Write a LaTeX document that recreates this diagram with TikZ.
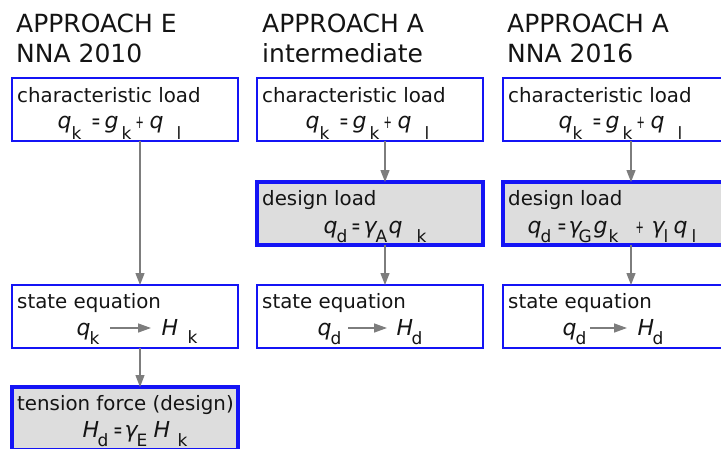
\documentclass[tikz,border=0pt]{standalone}
\usepackage{fontspec}
\setmainfont{DejaVu Sans}
\usepackage{graphicx}
\usetikzlibrary{arrows.meta}
\definecolor{bblue}{RGB}{20,20,245}
\definecolor{gfill}{RGB}{221,221,221}
\definecolor{agrey}{RGB}{125,125,125}
\definecolor{tcol}{RGB}{20,20,20}
% piece at horizontal offset
\newcommand{\pc}[2]{\makebox[0pt][l]{\hspace*{#1}#2}}
% subscript with a given drop
\newcommand{\dsb}[2]{\raisebox{-#1}{\fontsize{17pt}{17pt}\selectfont #2}}
\newcommand{\mv}[1]{{\itshape #1}}
\newcommand{\eqs}{{\fontsize{21pt}{21pt}\selectfont\scalebox{0.5}[1]{=}}}
\newcommand{\pls}{{\fontsize{18pt}{18pt}\selectfont\scalebox{0.55}[1]{+}}}
\begin{document}
\begin{tikzpicture}[x=1pt,y=-1pt,
 box/.style={draw=bblue,line width=1.6pt,minimum width=226pt,minimum height=63pt,anchor=north west,inner sep=0pt,outer sep=0pt},
 dbox/.style={box,line width=3.5pt,fill=gfill},
 head/.style={anchor=base west,inner sep=0pt,font=\fontsize{25pt}{30pt}\selectfont,text=tcol},
 lbl/.style={anchor=base west,inner sep=0pt,font=\fontsize{19.8pt}{20pt}\selectfont,text=tcol},
 fml/.style={anchor=base west,inner sep=0pt,font=\fontsize{22pt}{22pt}\selectfont,text=tcol},
 flow/.style={draw=agrey,line width=1.3pt,-{Triangle[length=12pt,width=9pt]}},
 sarr/.style={draw=agrey,line width=1.4pt,-{Triangle[length=13pt,width=9pt]}}]
\useasboundingbox (0,0) rectangle (721,448);
\clip (0,0) rectangle (721,448);

% headers
\node[head] (h1a) at (16,32) {APPROACH E};
\node[head] (h1b) at (16,62) {NNA 2010};
\node[head] (h2a) at (262,32) {APPROACH A};
\node[head] (h2b) at (262,62) {intermediate};
\node[head] (h3a) at (507,32) {APPROACH A};
\node[head] (h3b) at (507,62) {NNA 2016};

% boxes
\node[box] (c1) at (12,78) {};
\node[box] (c2) at (257,78) {};
\node[box] (c3) at (503,78) {};
\node[dbox] (d2) at (257,182) {};
\node[dbox] (d3) at (503,182) {};
\node[box] (s1) at (12,285) {};
\node[box] (s2) at (257,285) {};
\node[box] (s3) at (503,285) {};
\node[dbox] (t1) at (12,387) {};

% labels
\node[lbl] (c1l) at (17,102) {characteristic load};
\node[lbl] (c2l) at (262,102) {characteristic load};
\node[lbl] (c3l) at (508,102) {characteristic load};
\node[lbl] (d2l) at (262,205) {design load};
\node[lbl] (d3l) at (508,205) {design load};
\node[lbl] (s1l) at (17,308) {state equation};
\node[lbl] (s2l) at (262,308) {state equation};
\node[lbl] (s3l) at (508,308) {state equation};
\node[lbl] (t1l) at (17,410) {tension force (design)};

% formulas
\newcommand{\charf}{\pc{0pt}{\mv{q}}\pc{14pt}{\dsb{11pt}{k}}\pc{34pt}{\eqs}\pc{47pt}{\mv{g}}\pc{64pt}{\dsb{11pt}{k}}\pc{78pt}{\pls}\pc{92pt}{\mv{q}}\pc{119pt}{\dsb{11pt}{l}}}
\node[fml] (c1f) at (57,128) {\charf};
\node[fml] (c2f) at (305,128) {\charf};
\node[fml] (c3f) at (558,128) {\charf};
\node[fml] (d2f) at (323,233) {\pc{0pt}{\mv{q}}\pc{13pt}{\dsb{9pt}{d}}\pc{28pt}{\eqs}\pc{40pt}{\mv{γ}}\pc{52pt}{\dsb{9pt}{A}}\pc{65pt}{\mv{q}}\pc{93pt}{\dsb{9pt}{k}}};
\node[fml] (d3f) at (527,233) {\pc{0pt}{\mv{q}}\pc{13pt}{\dsb{9pt}{d}}\pc{30pt}{\eqs}\pc{41pt}{\mv{γ}}\pc{51pt}{\dsb{9pt}{G}}\pc{66pt}{\mv{g}}\pc{81pt}{\dsb{9pt}{k}}\pc{108pt}{\pls}\pc{124pt}{\mv{γ}}\pc{136pt}{\dsb{9pt}{l}}\pc{146pt}{\mv{q}}\pc{164pt}{\dsb{9pt}{l}}};
\node[fml] (t1f) at (82,437) {\pc{0pt}{\mv{H}}\pc{15pt}{\dsb{9pt}{d}}\pc{31pt}{\eqs}\pc{42pt}{\mv{γ}}\pc{54pt}{\dsb{9pt}{E}}\pc{71pt}{\mv{H}}\pc{95pt}{\dsb{9pt}{k}}};

% state equations
\node[fml] (s1q) at (76,335) {\pc{0pt}{\mv{q}}\pc{13pt}{\dsb{9pt}{k}}};
\node[fml] (s1h) at (161,335) {\pc{0pt}{\mv{H}}\pc{26pt}{\dsb{8pt}{k}}};
\node[fml] (s2q) at (317,335) {\pc{0pt}{\mv{q}}\pc{13pt}{\dsb{9pt}{d}}};
\node[fml] (s2h) at (396,335) {\pc{0pt}{\mv{H}}\pc{15pt}{\dsb{9pt}{d}}};
\node[fml] (s3q) at (562,335) {\pc{0pt}{\mv{q}}\pc{13pt}{\dsb{9pt}{d}}};
\node[fml] (s3h) at (637,335) {\pc{0pt}{\mv{H}}\pc{15pt}{\dsb{9pt}{d}}};
\draw[sarr] ([shift={(34pt,7pt)}]s1q.base west) -- ([shift={(-10pt,7pt)}]s1h.base west);
\draw[sarr] ([shift={(31pt,7pt)}]s2q.base west) -- ([shift={(-9pt,7pt)}]s2h.base west);
\draw[sarr] ([shift={(28pt,7pt)}]s3q.base west) -- ([shift={(-10pt,7pt)}]s3h.base west);

% flow arrows
\draw[flow] ([xshift=15pt]c1.south) -- ([xshift=15pt]s1.north);
\draw[flow] ([xshift=15pt]s1.south) -- ([xshift=15pt]t1.north);
\draw[flow] ([xshift=15pt]c2.south) -- ([xshift=15pt]d2.north);
\draw[flow] ([xshift=15pt]d2.south) -- ([xshift=15pt]s2.north);
\draw[flow] ([xshift=15pt]c3.south) -- ([xshift=15pt]d3.north);
\draw[flow] ([xshift=15pt]d3.south) -- ([xshift=15pt]s3.north);
\end{tikzpicture}
\end{document}
